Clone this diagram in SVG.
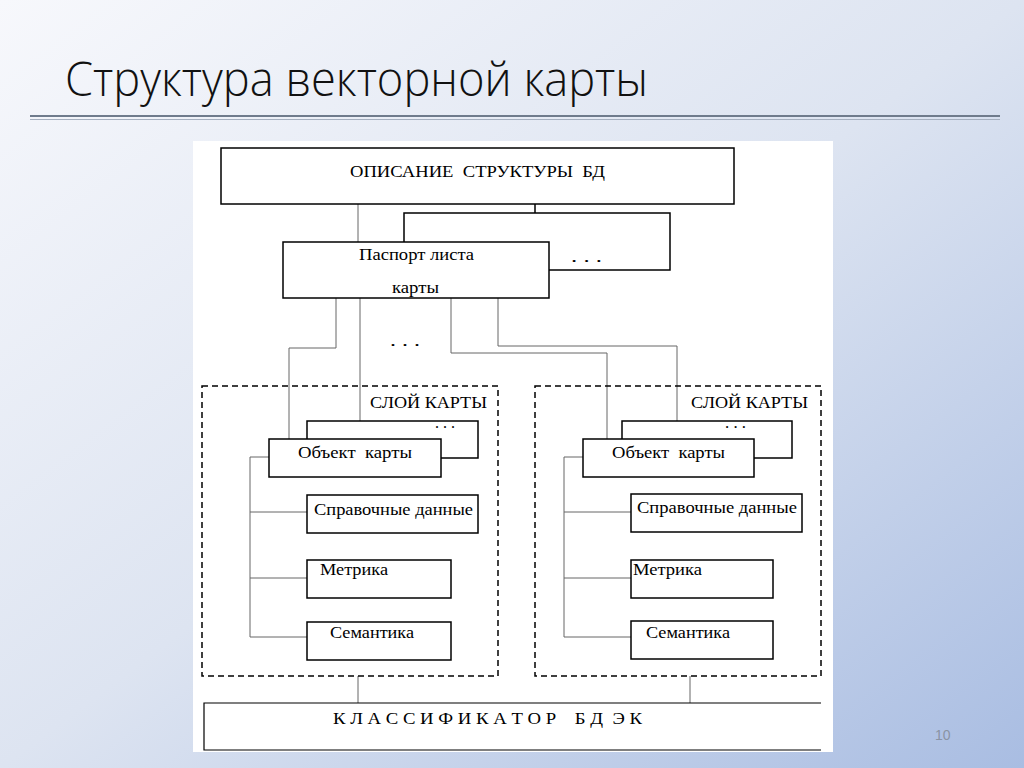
<svg xmlns="http://www.w3.org/2000/svg" width="1024" height="768" viewBox="0 0 1024 768" xml:space="preserve">
<defs>
<linearGradient id="bg" x1="0" y1="0" x2="1" y2="1">
<stop offset="0" stop-color="#f7f8fc"/>
<stop offset="0.5" stop-color="#dde4f1"/>
<stop offset="1" stop-color="#a9bde2"/>
</linearGradient>
<style>
.box{fill:#fff;stroke:#000;stroke-width:1.5}
.dash{fill:none;stroke:#000;stroke-width:1.5;stroke-dasharray:6 4}
.con{fill:none;stroke:#666;stroke-width:1}
.t{font-family:"Liberation Serif","Times New Roman",serif;font-size:17px;fill:#000;white-space:pre}
.title{font-family:"Open Sans","Noto Sans",sans-serif;font-weight:300;font-size:48px;fill:#111}
</style>
</defs>
<rect width="1024" height="768" fill="url(#bg)"/>
<text class="title" x="65" y="96" textLength="583" lengthAdjust="spacingAndGlyphs">Структура векторной карты</text>
<line x1="30" y1="116" x2="1000" y2="116" stroke="#6f7b8c" stroke-width="2"/>
<line x1="30" y1="119.5" x2="1000" y2="119.5" stroke="#a5afbf" stroke-width="1"/>
<rect x="193" y="141" width="640" height="611" fill="#fff"/>

<g id="connectors">
<line class="con" x1="358" y1="204" x2="358" y2="242"/>
<line class="con" x1="535" y1="204" x2="535" y2="213" style="stroke:#000;stroke-width:1.5"/>
<polyline class="con" points="336,298 336,348 289,348 289,439"/>
<line class="con" x1="360" y1="298" x2="360" y2="421"/>
<polyline class="con" points="451,298 451,353 607,353 607,439"/>
<polyline class="con" points="498,298 498,346 677,346 677,421"/>
<polyline class="con" points="269,457 250,457 250,637 307,637"/>
<line class="con" x1="250" y1="512" x2="307" y2="512"/>
<line class="con" x1="250" y1="578" x2="307" y2="578"/>
<polyline class="con" points="583,457 564,457 564,637 631,637"/>
<line class="con" x1="564" y1="512" x2="631" y2="512"/>
<line class="con" x1="564" y1="578" x2="631" y2="578"/>
<line class="con" x1="358" y1="676" x2="358" y2="703"/>
<line class="con" x1="690" y1="676" x2="690" y2="703"/>
</g>

<g id="db-structure">
<rect class="box" x="221" y="148" width="513" height="56"/>
<text class="t" x="350" y="177" textLength="255" lengthAdjust="spacingAndGlyphs">ОПИСАНИЕ  СТРУКТУРЫ  БД</text>
</g>

<g id="passport-back">
<rect class="box" x="404" y="213" width="266" height="57"/>
<text class="t" x="571" y="262" textLength="31" lengthAdjust="spacingAndGlyphs">. . .</text>
</g>

<g id="passport">
<rect class="box" x="283" y="242" width="266" height="56"/>
<text class="t" x="359" y="260" textLength="115" lengthAdjust="spacingAndGlyphs">Паспорт листа</text>
<text class="t" x="392" y="293" textLength="47" lengthAdjust="spacingAndGlyphs">карты</text>
</g>

<g id="dots-mid">
<text class="t" x="390" y="346" textLength="30" lengthAdjust="spacingAndGlyphs">. . .</text>
</g>

<g id="layer-left">
<rect class="dash" x="202" y="386" width="296" height="290"/>
<text class="t" x="370" y="408" textLength="117" lengthAdjust="spacingAndGlyphs">СЛОЙ КАРТЫ</text>
</g>
<g id="object-back-left">
<rect class="box" x="307" y="421" width="171" height="37"/>
<text class="t" x="435" y="428" textLength="20" lengthAdjust="spacingAndGlyphs">. . .</text>
</g>
<g id="object-left">
<rect class="box" x="269" y="439" width="172" height="38"/>
<text class="t" x="298" y="458" textLength="114" lengthAdjust="spacingAndGlyphs">Объект  карты</text>
</g>
<g id="ref-left">
<rect class="box" x="307" y="495" width="171" height="38"/>
<text class="t" x="314" y="515" textLength="159" lengthAdjust="spacingAndGlyphs">Справочные данные</text>
</g>
<g id="metric-left">
<rect class="box" x="307" y="560" width="144" height="38"/>
<text class="t" x="320" y="575" textLength="68" lengthAdjust="spacingAndGlyphs">Метрика</text>
</g>
<g id="sem-left">
<rect class="box" x="307" y="622" width="144" height="38"/>
<text class="t" x="330" y="638" textLength="84" lengthAdjust="spacingAndGlyphs">Семантика</text>
</g>

<g id="layer-right">
<rect class="dash" x="535" y="386" width="286" height="290"/>
<text class="t" x="691" y="408" textLength="117" lengthAdjust="spacingAndGlyphs">СЛОЙ КАРТЫ</text>
</g>
<g id="object-back-right">
<rect class="box" x="622" y="421" width="170" height="37"/>
<text class="t" x="725" y="428" textLength="21" lengthAdjust="spacingAndGlyphs">. . .</text>
</g>
<g id="object-right">
<rect class="box" x="583" y="439" width="171" height="38"/>
<text class="t" x="612" y="458" textLength="113" lengthAdjust="spacingAndGlyphs">Объект  карты</text>
</g>
<g id="ref-right">
<rect class="box" x="631" y="494" width="171" height="38"/>
<text class="t" x="637" y="513" textLength="160" lengthAdjust="spacingAndGlyphs">Справочные данные</text>
</g>
<g id="metric-right">
<rect class="box" x="631" y="560" width="142" height="38"/>
<text class="t" x="633" y="575" textLength="69" lengthAdjust="spacingAndGlyphs">Метрика</text>
</g>
<g id="sem-right">
<rect class="box" x="631" y="621" width="142" height="38"/>
<text class="t" x="646" y="638" textLength="84" lengthAdjust="spacingAndGlyphs">Семантика</text>
</g>

<g id="classifier">
<polyline points="821,703 204,703 204,750 821,750" fill="#fff" stroke="#000" stroke-width="1.2"/>
<text class="t" x="333" y="724" textLength="309" lengthAdjust="spacingAndGlyphs">К Л А С С И Ф И К А Т О Р    Б Д  Э К</text>
</g>

<text x="935" y="740" font-family="Liberation Sans, Arial, sans-serif" font-size="14" fill="#8a93a3">10</text>
</svg>
